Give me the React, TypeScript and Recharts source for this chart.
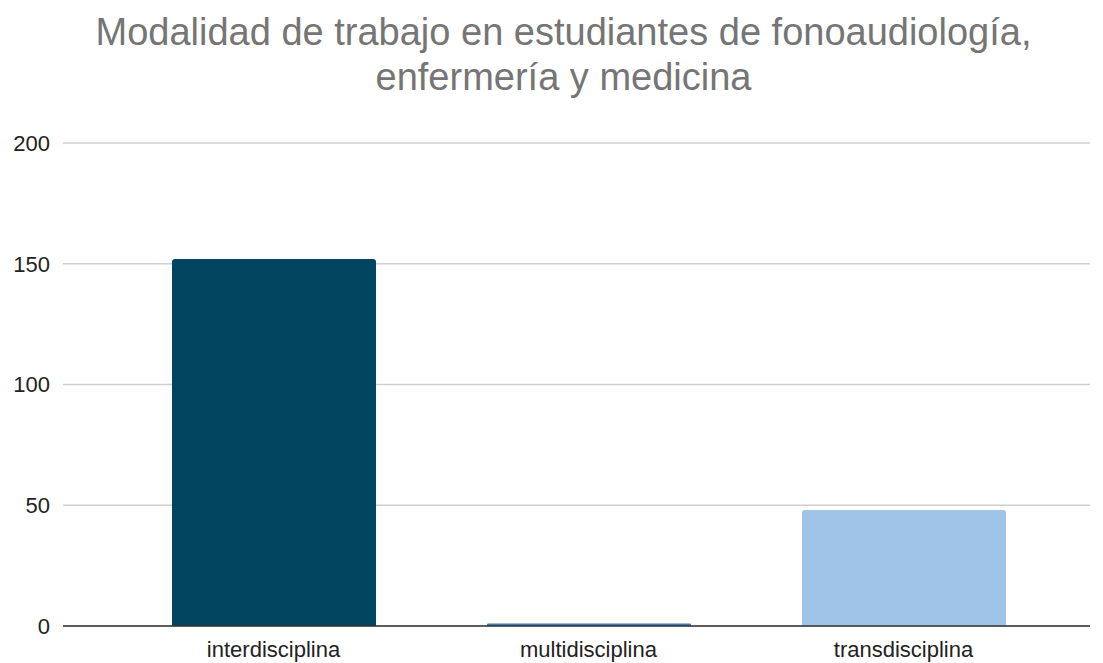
import { BarChart, Bar, XAxis, YAxis, CartesianGrid, Cell } from "recharts";

const CATEGORIES = ["interdisciplina", "multidisciplina", "transdisciplina"];
const VALUES = [152, 1, 48];
const COLORS = ["#01445f", "#3d78b4", "#a0c4e8"];
const Y_TICKS = [0, 50, 100, 150, 200];

const TITLE_1 = "Modalidad de trabajo en estudiantes de fonoaudiología,";
const TITLE_2 = "enfermería y medicina";

const FONT = '"Liberation Sans", Arial, sans-serif';

const data = CATEGORIES.map((name, i) => ({ name, value: VALUES[i] }));

export default function App() {
  return (
    <div
      style={{
        position: "fixed",
        top: 0,
        left: 0,
        width: 1103,
        height: 663,
        background: "#fff",
        fontFamily: FONT,
      }}
    >
      <div
        style={{
          position: "absolute",
          top: 10,
          left: 12,
          width: 1103,
          textAlign: "center",
          color: "#757575",
          fontSize: 38,
          lineHeight: "45px",
        }}
      >
        <div>{TITLE_1}</div>
        <div>{TITLE_2}</div>
      </div>
      <BarChart
        width={1103}
        height={663}
        data={data}
        margin={{ top: 143, right: 13, bottom: 7, left: 8 }}
        style={{ position: "absolute", top: 0, left: 0 }}
      >
        <CartesianGrid vertical={false} stroke="#cfcfcf" strokeWidth={1.5} />
        <XAxis
          dataKey="name"
          height={30}
          padding={{ left: 53, right: 29 }}
          tickLine={false}
          tickSize={0}
          tickMargin={15}
          axisLine={{ stroke: "#333", strokeWidth: 1.5 }}
          tick={{ fill: "#222", fontSize: 22, fontFamily: FONT }}
        />
        <YAxis
          width={55}
          domain={[0, 200]}
          ticks={Y_TICKS}
          axisLine={false}
          tickLine={false}
          tickSize={0}
          tickMargin={13}
          tick={{ fill: "#222", fontSize: 22, fontFamily: FONT }}
        />
        <Bar dataKey="value" barSize={204} radius={[3, 3, 0, 0]} isAnimationActive={false}>
          {data.map((d, i) => (
            <Cell key={d.name} fill={COLORS[i]} />
          ))}
        </Bar>
      </BarChart>
    </div>
  );
}
